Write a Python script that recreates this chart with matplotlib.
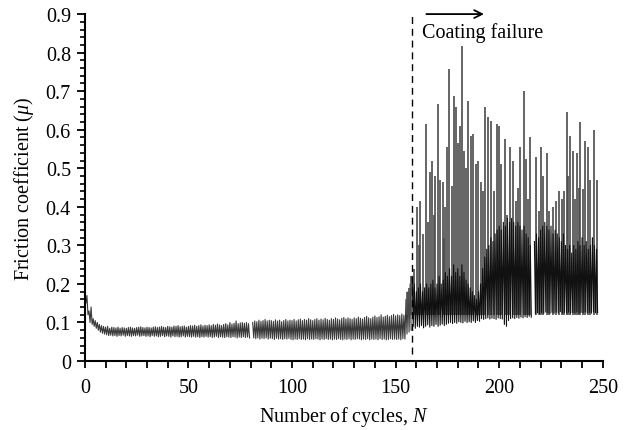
import numpy as np
import matplotlib
matplotlib.use("Agg")
import matplotlib.pyplot as plt
from matplotlib.ticker import MultipleLocator, FuncFormatter

nan = np.nan

# ---- Phase 1: before coating failure (cycles 0..157), per-cycle envelope ----
cycles1 = np.arange(0, 158)
hi1 = [0.18, 0.17, 0.13, 0.14, 0.11, 0.105, 0.10, 0.095, 0.092, 0.09,
       0.088, 0.09, 0.085, 0.088, 0.087, 0.086, 0.088, 0.085, 0.087, 0.086,
       0.085, 0.087, 0.088, 0.086, 0.085, 0.087, 0.088, 0.089, 0.087, 0.086,
       0.088, 0.087, 0.086, 0.088, 0.089, 0.087, 0.088, 0.09, 0.088, 0.087,
       0.09, 0.089, 0.088, 0.091, 0.09, 0.092, 0.089, 0.09, 0.091, 0.088,
       0.09, 0.092, 0.091, 0.093, 0.09, 0.092, 0.094, 0.091, 0.093, 0.092,
       0.094, 0.092, 0.095, 0.093, 0.096, 0.094, 0.092, 0.095, 0.097, 0.094,
       0.10, 0.096, 0.098, 0.104, 0.097, 0.099, 0.10, 0.098, 0.10, 0.097,
       nan, 0.10, 0.104, 0.102, 0.106, 0.103, 0.105, 0.108, 0.104, 0.106,
       0.105, 0.103, 0.107, 0.104, 0.106, 0.102, 0.105, 0.108, 0.104, 0.106,
       0.105, 0.108, 0.104, 0.107, 0.109, 0.105, 0.108, 0.106, 0.11, 0.107,
       0.105, 0.108, 0.11, 0.106, 0.109, 0.107, 0.111, 0.108, 0.106, 0.11,
       0.108, 0.112, 0.109, 0.107, 0.111, 0.113, 0.109, 0.112, 0.11, 0.108,
       0.112, 0.11, 0.114, 0.111, 0.109, 0.113, 0.116, 0.112, 0.11, 0.114,
       0.117, 0.113, 0.115, 0.12, 0.114, 0.116, 0.119, 0.115, 0.118, 0.121,
       0.117, 0.12, 0.118, 0.122, 0.119, 0.16, 0.18, 0.20]
lo1 = [0.15, 0.12, 0.10, 0.095, 0.09, 0.085, 0.08, 0.075, 0.072, 0.07,
       0.068, 0.066, 0.067, 0.065, 0.066, 0.064, 0.066, 0.065, 0.067, 0.064,
       0.066, 0.065, 0.064, 0.066, 0.065, 0.067, 0.064, 0.065, 0.066, 0.064,
       0.065, 0.063, 0.066, 0.064, 0.065, 0.063, 0.064, 0.066, 0.063, 0.065,
       0.064, 0.062, 0.065, 0.063, 0.064, 0.062, 0.063, 0.065, 0.062, 0.064,
       0.063, 0.062, 0.064, 0.062, 0.063, 0.061, 0.063, 0.062, 0.064, 0.062,
       0.063, 0.061, 0.062, 0.064, 0.061, 0.063, 0.062, 0.061, 0.063, 0.062,
       0.061, 0.063, 0.062, 0.06, 0.062, 0.061, 0.063, 0.061, 0.062, 0.06,
       nan, 0.06, 0.058, 0.06, 0.057, 0.059, 0.058, 0.06, 0.057, 0.059,
       0.058, 0.056, 0.059, 0.057, 0.058, 0.056, 0.058, 0.057, 0.059, 0.056,
       0.055, 0.057, 0.056, 0.058, 0.056, 0.057, 0.055, 0.058, 0.056, 0.057,
       0.056, 0.058, 0.057, 0.055, 0.057, 0.056, 0.058, 0.056, 0.057, 0.055,
       0.057, 0.056, 0.058, 0.056, 0.055, 0.057, 0.056, 0.058, 0.055, 0.057,
       0.056, 0.058, 0.057, 0.055, 0.057, 0.056, 0.058, 0.055, 0.057, 0.056,
       0.057, 0.055, 0.058, 0.056, 0.057, 0.055, 0.056, 0.058, 0.056, 0.057,
       0.056, 0.057, 0.055, 0.058, 0.057, 0.07, 0.075, 0.08]

# ---- Phase 2: after coating failure (cycles 158..247) dense band envelope ----
cycles2 = np.arange(158, 248)
hi2 = [0.22, 0.20, 0.18, 0.19, 0.20, 0.18, 0.19, 0.20,
       0.19, 0.20, 0.21, 0.19, 0.20, 0.22, 0.20, 0.21, 0.23, 0.22,
       0.24, 0.22, 0.25, 0.23, 0.24, 0.22, 0.25, 0.23, 0.21, 0.20,
       0.19, 0.18, 0.17, 0.16, 0.18, 0.20,
       0.24, 0.27, 0.29, 0.30, 0.32, 0.31, 0.33, 0.34, 0.35, 0.34, 0.36, 0.35, 0.37, 0.36,
       0.37, 0.36, 0.35, 0.36, 0.35, 0.34, 0.35, 0.33, 0.32, 0.30,
       nan,
       0.31, 0.33, 0.32, 0.34, 0.35, 0.36, 0.35, 0.34, 0.35, 0.33,
       0.34, 0.33, 0.32, 0.31, 0.33, 0.30, 0.29, 0.30, 0.28, 0.30,
       0.29, 0.31, 0.30, 0.32, 0.30, 0.31, 0.29, 0.30, 0.32, 0.30, 0.29]
lo2 = [0.09, 0.085, 0.09, 0.088, 0.092, 0.086, 0.09, 0.094,
       0.088, 0.092, 0.09, 0.095, 0.09, 0.093, 0.096, 0.092, 0.095, 0.098,
       0.10, 0.097, 0.10, 0.098, 0.102, 0.10, 0.099, 0.103, 0.10, 0.102,
       0.10, 0.104, 0.10, 0.105, 0.103, 0.11,
       0.108, 0.11, 0.112, 0.109, 0.111, 0.11, 0.108, 0.112, 0.11, 0.109, 0.095, 0.09, 0.105, 0.11,
       0.112, 0.11, 0.113, 0.111, 0.114, 0.112, 0.115, 0.113, 0.116, 0.114,
       nan,
       0.122, 0.125, 0.123, 0.126, 0.124, 0.127, 0.125, 0.123, 0.126, 0.124,
       0.127, 0.125, 0.128, 0.124, 0.126, 0.125, 0.127, 0.124, 0.126, 0.125,
       0.127, 0.124, 0.126, 0.125, 0.127, 0.125, 0.126, 0.124, 0.127, 0.125, 0.126]

# ---- Phase 2 tall spikes (cycle, friction peak) ----
spike_x = [155.5, 156.5, 157.5, 159.0, 160.5, 161.3, 162.0, 163.0, 164.5, 165.5,
           166.5, 167.7, 168.3, 169.0, 170.5, 171.5, 172.7, 173.4, 174.0, 175.0,
           176.0, 177.0, 178.0, 179.0, 180.0, 181.0, 182.0, 183.0, 184.0, 185.0,
           186.5, 187.5, 188.6, 189.9, 191.0, 192.2, 193.3, 194.6, 195.9, 197.5,
           198.9, 200.0, 201.0, 202.7, 203.8, 205.0, 206.7, 208.0, 209.1, 210.2,
           211.8, 213.0, 214.0, 215.0, 217.7, 219.0, 220.0, 221.3, 222.9, 224.2,
           225.8, 227.4, 228.7, 230.3, 231.4, 232.5, 233.4, 234.2, 235.5, 236.5,
           237.4, 238.3, 239.2, 240.3, 241.6, 242.8, 244.0, 245.6, 247.0]
spike_y = [0.18, 0.19, 0.22, 0.24, 0.40, 0.30, 0.415, 0.33, 0.615, 0.36,
           0.49, 0.52, 0.38, 0.48, 0.666, 0.47, 0.465, 0.32, 0.40, 0.554,
           0.757, 0.455, 0.688, 0.66, 0.565, 0.61, 0.818, 0.545, 0.50, 0.675,
           0.585, 0.59, 0.51, 0.52, 0.465, 0.44, 0.658, 0.632, 0.623, 0.44,
           0.615, 0.61, 0.51, 0.575, 0.38, 0.554, 0.52, 0.415, 0.45, 0.554,
           0.70, 0.525, 0.42, 0.58, 0.53, 0.39, 0.556, 0.48, 0.54, 0.39,
           0.40, 0.415, 0.44, 0.42, 0.44, 0.645, 0.48, 0.585, 0.545, 0.42,
           0.54, 0.45, 0.62, 0.445, 0.57, 0.555, 0.47, 0.60, 0.47]

failure_cycle = 158

# ---- Figure ----
plt.rcParams['font.family'] = ['Liberation Serif', 'DejaVu Serif']
plt.rcParams['mathtext.fontset'] = 'custom'
plt.rcParams['mathtext.it'] = 'Liberation Serif:italic'
plt.rcParams['mathtext.rm'] = 'Liberation Serif'
FS = 14.5
fig = plt.figure(figsize=(6.24, 4.31), dpi=100)
ax = fig.add_axes([0.136, 0.160, 0.830, 0.805])

def zigzag(c, hi, lo):
    c = np.asarray(c, float)
    xs = np.column_stack([c, c + 0.5]).ravel()
    ys = np.column_stack([np.asarray(hi, float), np.asarray(lo, float)]).ravel()
    return xs, ys

x1, y1 = zigzag(cycles1, hi1, lo1)
ax.plot(x1, y1, color='#3a3a3a', lw=0.8)

ax.vlines(spike_x, 0.12, spike_y, color='#4a4a4a', lw=1.2)

x2, y2 = zigzag(cycles2, hi2, lo2)
ax.plot(x2, y2, color='#111111', lw=0.8)

ax.axvline(failure_cycle, ymin=0.02, ymax=1.0, color='black', lw=1.0,
           linestyle=(0, (5, 3.5)))

ax.annotate('', xy=(194, 0.90), xytext=(163.5, 0.90),
            arrowprops=dict(arrowstyle='->', color='black', lw=1.3,
                            mutation_scale=14),
            annotation_clip=False)
ax.text(162.5, 0.853, 'Coating failure', fontsize=14.5, va='center', ha='left')

ax.set_xlim(0, 250)
ax.set_ylim(0, 0.9)
ax.xaxis.set_major_locator(MultipleLocator(50))
ax.xaxis.set_minor_locator(MultipleLocator(10))
ax.yaxis.set_major_locator(MultipleLocator(0.1))
ax.yaxis.set_minor_locator(MultipleLocator(0.02))
ax.yaxis.set_major_formatter(FuncFormatter(
    lambda v, p: '0' if abs(v) < 1e-9 else f'{v:.1f}'))

for s in ['top', 'right']:
    ax.spines[s].set_visible(False)
for s in ['left', 'bottom']:
    ax.spines[s].set_linewidth(1.5)

ax.tick_params(axis='x', which='both', direction='out', length=5, width=1.3,
               labelsize=FS, pad=7)
ax.tick_params(axis='y', which='major', direction='out', length=6, width=1.3,
               labelsize=FS, pad=4)
ax.tick_params(axis='y', which='minor', direction='out', length=3.5, width=1.2)

ax.set_xlabel('Number of cycles, $\\mathit{N}$', fontsize=FS, labelpad=5)
ax.set_ylabel('Friction coefficient ($\\mathit{\\mu}$)', fontsize=FS, labelpad=7)

fig.savefig('out.png', dpi=100)
